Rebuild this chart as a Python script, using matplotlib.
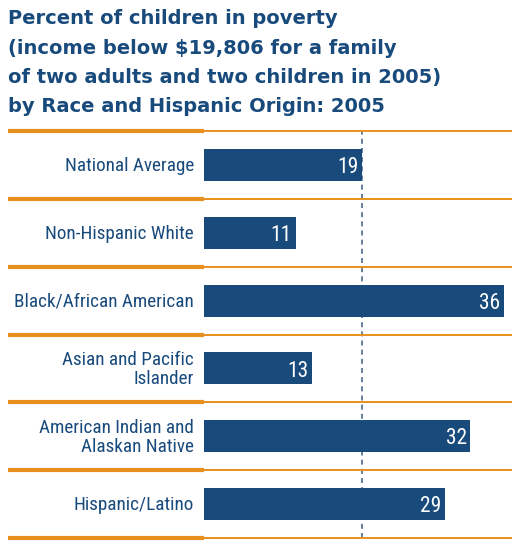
import matplotlib
matplotlib.use("Agg")
import matplotlib.pyplot as plt
from matplotlib import transforms
from matplotlib.font_manager import FontProperties, findfont

# data
categories = ["National Average", "Non-Hispanic White", "Black/African American",
              "Asian and Pacific\nIslander", "American Indian and\nAlaskan Native",
              "Hispanic/Latino"]
values = [19, 11, 36, 13, 32, 29]
national_avg = 19
title = ("Percent of children in poverty\n"
         "(income below $19,806 for a family\n"
         "of two adults and two children in 2005)\n"
         "by Race and Hispanic Origin: 2005")

BLUE = "#184a7c"
ORANGE = "#e8901e"
W, H = 512, 541


def pick_narrow():
    # try a condensed face, fall back to plain DejaVu
    for fam, stretch in [("Liberation Sans Narrow", "normal"), ("Roboto Condensed", "normal"),
                         ("DejaVu Sans", "condensed")]:
        try:
            path = findfont(FontProperties(family=fam, stretch=stretch), fallback_to_default=False)
        except Exception:
            continue
        if "narrow" in path.lower() or "condensed" in path.lower():
            return fam, stretch
    return "DejaVu Sans", "normal"


NARROW, STRETCH = pick_narrow()

fig = plt.figure(figsize=(W / 100, H / 100), dpi=100)
ax = fig.add_axes([204 / W, 1 - 538 / H, 1 - 204 / W, (538 - 131) / H])

ypos = list(range(len(values)))
ax.barh(ypos, values, height=0.47, color=BLUE, zorder=2)

ax.set_xlim(0, 37)
ax.set_ylim(len(values) - 0.5, -0.5)
ax.axvline(national_avg, color="#4a6a8e", lw=1.2, ls=(0, (3, 2.5)), zorder=1)
ax.axis("off")

# separators: thick under labels, thin across the bar area
blend = transforms.blended_transform_factory(fig.transFigure, ax.transData)
for b in range(len(values) + 1):
    yb = b - 0.5
    ax.axhline(yb, color=ORANGE, lw=1.4, zorder=1, clip_on=False)
    ax.plot([8 / W, 204 / W], [yb, yb], color=ORANGE, lw=3.0, transform=blend,
            clip_on=False, solid_capstyle="butt")

labels = []
for y, c in zip(ypos, categories):
    labels.append(ax.text(194 / W, y + 0.02, c, transform=blend, ha="right", va="center",
                          color=BLUE, fontsize=16, family=NARROW, fontstretch=STRETCH,
                          linespacing=1.05))
for y, v in zip(ypos, values):
    ax.text(v - 0.45, y + 0.04, str(v), color="white", ha="right", va="center",
            fontsize=15.5, family=NARROW, fontstretch=STRETCH, zorder=3)

# scale label size so the widest one spans about 180 px like the reference
fig.canvas.draw()
r = fig.canvas.get_renderer()
widest = max(t.get_window_extent(r).width for t in labels)
k = min(1.0, 180 / widest)
for t in labels:
    t.set_fontsize(16 * k)

fig.text(8 / W, 1 - 9 / H, title, ha="left", va="top", color=BLUE, fontsize=14,
         fontweight="bold", linespacing=1.7)

fig.savefig("out.png", dpi=100)
